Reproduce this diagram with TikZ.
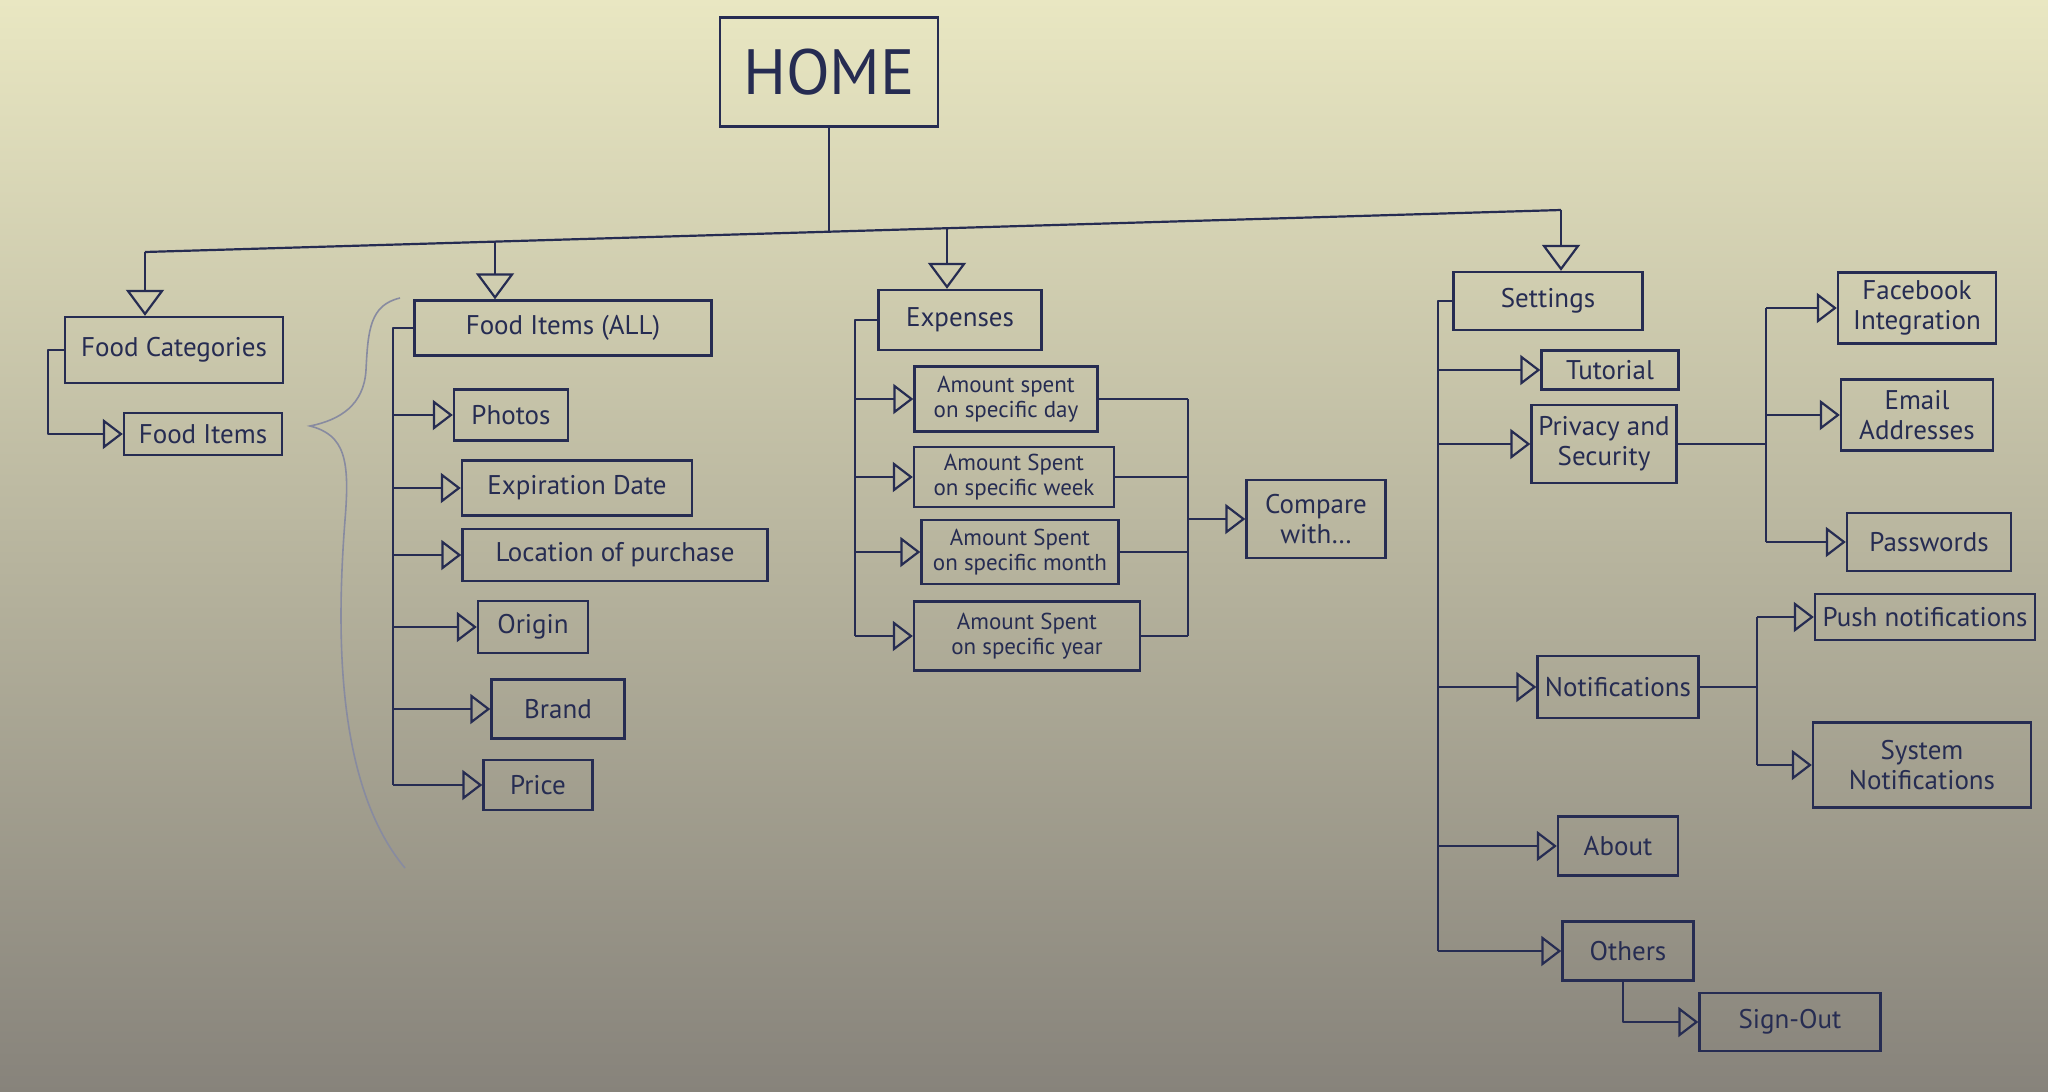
\documentclass[tikz,border=0pt]{standalone}
\usepackage{fontspec}
\setmainfont{PT Sans}
\usetikzlibrary{arrows.meta,calc}
\definecolor{ink}{RGB}{38,44,82}
\definecolor{bgtop}{RGB}{233,231,194}
\definecolor{bgmid}{RGB}{203,198,165}
\definecolor{bgbot}{RGB}{135,131,123}
\begin{document}
\begin{tikzpicture}[x=1pt,y=-1pt,
  box/.style={draw=ink, line width=2.4pt, text=ink, align=center, inner sep=2pt,
    font=\fontsize{27}{30}\selectfont},
  small/.style={font=\fontsize{23}{25}\selectfont},
  wire/.style={draw=ink, line width=2.2pt, line join=round},
  arr/.style={wire, -{Triangle[open, length=20pt, width=30pt]}},
  droparr/.style={wire, -{Triangle[open, length=26pt, width=38pt]}},
  bracestyle/.style={draw=ink!55, line width=1.6pt},
]
\useasboundingbox (0,0) rectangle (2048,1092);
\shade[top color=bgtop, middle color=bgmid, bottom color=bgbot] (0,0) rectangle (2048,1092);

% ---------- nodes ----------
\node[box, minimum width=218pt, minimum height=109pt, font=\fontsize{64}{70}\selectfont] (home) at (829,72) {HOME};

\node[box, minimum width=218pt, minimum height=66pt] (fc) at (174,350) {Food Categories};
\node[box, minimum width=158pt, minimum height=42pt] (fi) at (203,434) {Food Items};

\node[box, minimum width=297pt, minimum height=55pt] (fia) at (563,328) {Food Items (ALL)};
\node[box, minimum width=114pt, minimum height=51pt] (photos) at (511,415) {Photos};
\node[box, minimum width=230pt, minimum height=55pt] (expd) at (577,488) {Expiration Date};
\node[box, minimum width=305pt, minimum height=52pt] (loc) at (615,555) {Location of purchase};
\node[box, minimum width=110pt, minimum height=52pt] (origin) at (533,627) {Origin};
\node[box, minimum width=133pt, minimum height=59pt] (brand) at (558,709) {Brand};
\node[box, minimum width=109pt, minimum height=50pt] (price) at (538,785) {Price};

\node[box, minimum width=163pt, minimum height=60pt] (expn) at (960,320) {Expenses};
\node[box, small, minimum width=183pt, minimum height=65pt] (day) at (1006,399) {Amount spent\\on specific day};
\node[box, small, minimum width=200pt, minimum height=60pt] (week) at (1014,477) {Amount Spent\\on specific week};
\node[box, small, minimum width=197pt, minimum height=64pt] (month) at (1020,552) {Amount Spent\\on specific month};
\node[box, small, minimum width=226pt, minimum height=69pt] (year) at (1027,636) {Amount Spent\\on specific year};
\node[box, minimum width=139pt, minimum height=78pt] (compare) at (1316,519) {Compare\\with\ldots};

\node[box, minimum width=189pt, minimum height=58pt] (settings) at (1548,301) {Settings};
\node[box, minimum width=137pt, minimum height=39pt] (tutorial) at (1610,370) {Tutorial};
\node[box, minimum width=145pt, minimum height=78pt] (privacy) at (1604,444) {Privacy and\\Security};
\node[box, minimum width=161pt, minimum height=62pt] (notif) at (1618,687) {Notifications};
\node[box, minimum width=120pt, minimum height=59pt] (about) at (1618,846) {About};
\node[box, minimum width=131pt, minimum height=59pt] (others) at (1628,951) {Others};
\node[box, minimum width=181pt, minimum height=58pt] (signout) at (1790,1022) {Sign-Out};

\node[box, minimum width=158pt, minimum height=71pt] (fb) at (1917,308) {Facebook\\Integration};
\node[box, minimum width=152pt, minimum height=71pt] (email) at (1917,415) {Email\\Addresses};
\node[box, minimum width=164pt, minimum height=58pt] (pw) at (1929,542) {Passwords};
\node[box, minimum width=220pt, minimum height=46pt] (push) at (1925,617) {Push notifications};
\node[box, minimum width=218pt, minimum height=85pt] (sysn) at (1922,765) {System\\Notifications};

% ---------- top bus ----------
\coordinate (bfc) at (145,252);
\coordinate (bhome) at (829,232);
\coordinate (bfia) at (495,242);
\coordinate (bexp) at (947,228);
\coordinate (bset) at (1561,210);
\draw[wire] (home.south) -- (bhome);
\draw[wire] (bfc) -- (bset);
\draw[droparr] (bfc) -- (bfc |- fc.north);
\draw[droparr] (bfia) -- (bfia |- fia.north);
\draw[droparr] (bexp) -- (bexp |- expn.north);
\draw[droparr] (bset) -- (bset |- settings.north);

% ---------- Food Categories ----------
\draw[arr] (fc.west) -- ++(-16,0) |- (fi.west);

% brace
\draw[bracestyle] (400,298) .. controls (370,305) and (368,330) .. (366,370)
  .. controls (364,405) and (340,420) .. (310,426)
  .. controls (345,435) and (350,460) .. (345,520)
  .. controls (335,650) and (340,790) .. (405,868);

% ---------- Food Items (ALL) ----------
\draw[wire] (fia.west) -- ++(-20,0) coordinate (fsp) -- (fsp |- price.west);
\foreach \n in {photos,expd,loc,origin,brand,price}
  \draw[arr] (fsp |- \n.west) -- (\n.west);

% ---------- Expenses ----------
\draw[wire] (expn.west) -- ++(-22,0) coordinate (esp) -- (esp |- year.west);
\foreach \n in {day,week,month,year}
  \draw[arr] (esp |- \n.west) -- (\n.west);
\coordinate (ecol) at (1188,0);
\foreach \n in {day,week,month,year}
  \draw[wire] (\n.east) -- (ecol |- \n.east);
\draw[wire] (ecol |- day.east) -- (ecol |- year.east);
\draw[arr] (ecol |- compare.west) -- (compare.west);

% ---------- Settings ----------
\draw[wire] (settings.west) -- ++(-14,0) coordinate (ssp) -- (ssp |- others.west);
\foreach \n in {tutorial,privacy,notif,about,others}
  \draw[arr] (ssp |- \n.west) -- (\n.west);

\coordinate (psp) at (1766,0);
\draw[wire] (privacy.east) -- (psp |- privacy.east);
\draw[wire] (psp |- fb.west) -- (psp |- pw.west);
\foreach \n in {fb,email,pw}
  \draw[arr] (psp |- \n.west) -- (\n.west);

\coordinate (nsp) at (1757,0);
\draw[wire] (notif.east) -- (nsp |- notif.east);
\draw[wire] (nsp |- push.west) -- (nsp |- sysn.west);
\foreach \n in {push,sysn}
  \draw[arr] (nsp |- \n.west) -- (\n.west);

\draw[arr] ([xshift=-5pt]others.south) |- (signout.west);
\end{tikzpicture}
\end{document}
